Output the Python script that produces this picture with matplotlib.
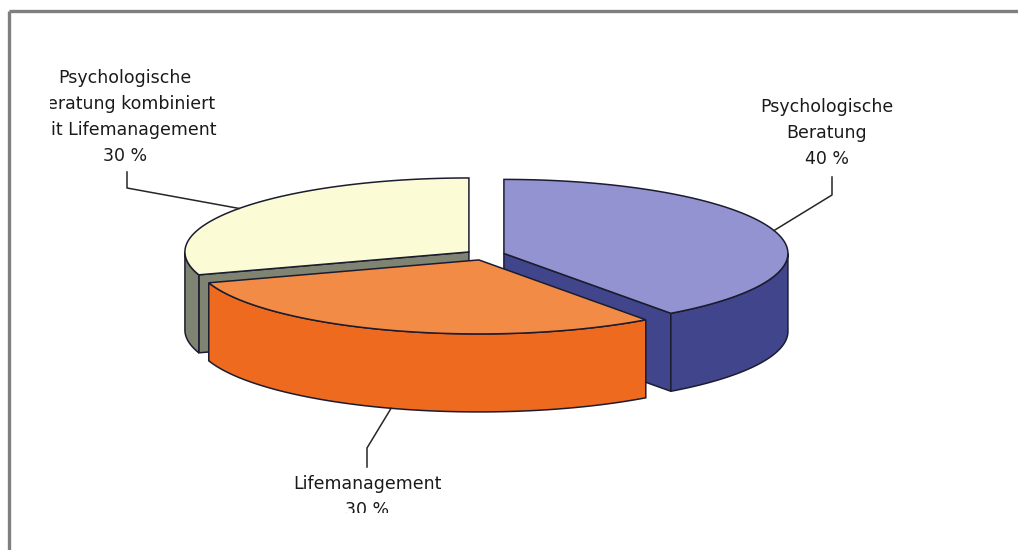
import numpy as np
import matplotlib.pyplot as plt
from matplotlib.patches import Polygon, Rectangle

# chart data
labels = ['Psychologische\nBeratung', 'Lifemanagement',
          'Psychologische\nBeratung kombiniert\nmit Lifemanagement']
values = [40, 30, 30]
top_colors = ['#9393d1', '#f28b45', '#fbfbd6']
side_colors = ['#41458b', '#ee6a1f', '#7e8372']

# label anchors (pixels): text centre, then leader line start
label_pos = [(827, 133), (367, 497), (125, 117)]
leader_start = [(832, 177), (367, 467), (127, 172)]
leader_knee = [(832, 195), (367, 448), (127, 188)]
leader_on_bottom = [False, True, False]

# geometry of the 3d pie, in pixels
cx, cy = 485, 255
rx, ry = 284, 74
depth = 78
explode = 0.07
start_angle = 90
edge = '#1c1c30'


def arc(ox, oy, t, dz=0):
    return np.column_stack([ox + rx * np.cos(t), oy - ry * np.sin(t) + dz])


fig = plt.figure(figsize=(10.18, 5.5), dpi=100)
ax = fig.add_axes([0, 0, 1, 1])
ax.set_xlim(0, 1018)
ax.set_ylim(550, 0)
ax.axis('off')

total = sum(values)
cum = np.cumsum([0] + values)
slices = []
for i, v in enumerate(values):
    t1 = np.radians(start_angle - cum[i] / total * 360)
    t2 = np.radians(start_angle - cum[i + 1] / total * 360)
    mid = (t1 + t2) / 2
    ox = cx + explode * rx * np.cos(mid)
    oy = cy - explode * ry * np.sin(mid)
    slices.append((t1, t2, mid, ox, oy))

# back slices first, front slice last
order = sorted(range(len(values)), key=lambda k: slices[k][4])
for i in order:
    t1, t2, mid, ox, oy = slices[i]
    z = 2 + order.index(i) * 3
    # radial walls facing the viewer
    for a, normal in [(t1, t1 + np.pi / 2), (t2, t2 - np.pi / 2)]:
        if np.sin(normal) < -1e-6:
            p = arc(ox, oy, np.array([a]))[0]
            quad = [(ox, oy), tuple(p), (p[0], p[1] + depth), (ox, oy + depth)]
            ax.add_patch(Polygon(quad, closed=True, fc=side_colors[i], ec=edge,
                                 lw=1.1, zorder=z))
    # outer curved wall (front half only)
    t = np.linspace(t2, t1, 300)
    front = t[np.sin(t) <= 0]
    if len(front) > 1:
        upper = arc(ox, oy, front)
        lower = arc(ox, oy, front[::-1], depth)
        ax.add_patch(Polygon(np.vstack([upper, lower]), closed=True,
                             fc=side_colors[i], ec=edge, lw=1.1, zorder=z + 1))
    # top face
    face = np.vstack([[ox, oy], arc(ox, oy, t)])
    ax.add_patch(Polygon(face, closed=True, fc=top_colors[i], ec=edge,
                         lw=1.1, zorder=z + 2))

# labels and leader lines
for i, v in enumerate(values):
    t1, t2, mid, ox, oy = slices[i]
    tip = arc(ox, oy, np.array([mid]), depth if leader_on_bottom[i] else 0)[0]
    xs = [leader_start[i][0], leader_knee[i][0], tip[0]]
    ys = [leader_start[i][1], leader_knee[i][1], tip[1]]
    ax.plot(xs, ys, color='#262626', lw=1.1, zorder=20)
    pct = round(v / total * 100)
    ax.text(label_pos[i][0], label_pos[i][1], f'{labels[i]}\n{pct} %',
            ha='center', va='center', fontsize=12.5,
            family='DejaVu Sans', color='#1a1a1a',
            linespacing=1.55, zorder=21)

# the plot area cuts the labels off at its left and bottom edges
ax.add_patch(Rectangle((0, 60), 50, 120, fc='white', ec='none', zorder=25))
ax.add_patch(Rectangle((0, 513), 1018, 40, fc='white', ec='none', zorder=25))

# grey frame of the chart area
ax.plot([9, 1018], [11, 11], color='#7f7f7f', lw=2.4, zorder=30,
        solid_capstyle='butt')
ax.plot([9, 9], [11, 550], color='#7f7f7f', lw=2.4, zorder=30,
        solid_capstyle='butt')

fig.savefig('out.png', dpi=100, facecolor='white')
